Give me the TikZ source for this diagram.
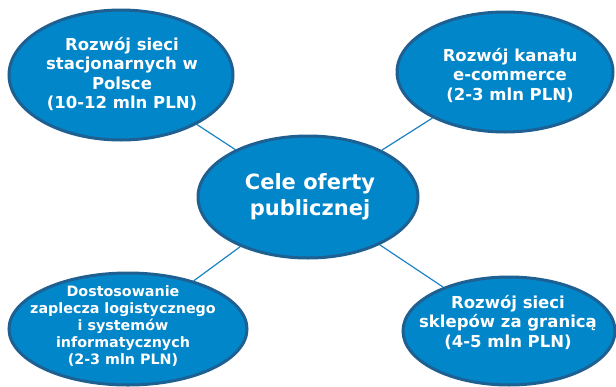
\documentclass[tikz,border=0pt]{standalone}
\usepackage{fontspec}
\setmainfont{DejaVu Sans}
\usetikzlibrary{shapes.geometric,backgrounds}
\definecolor{bubblefill}{RGB}{0,134,201}
\definecolor{bubbleedge}{RGB}{30,96,145}
\definecolor{linkcol}{RGB}{24,130,196}
\tikzset{
  bubble/.style={ellipse, draw=bubbleedge, fill=bubblefill, line width=3pt, inner sep=0pt},
  btext/.style={text=white, align=center, font=\bfseries\fontsize{16.5}{19.5}\selectfont, inner sep=0pt},
  link/.style={draw=linkcol, line width=1.2pt}
}
\begin{document}
\begin{tikzpicture}[x=1pt,y=-1pt]
\useasboundingbox (0,0) rectangle (616,386);
\node[bubble, minimum width=224, minimum height=130] (tl) at (121,75) {};
\node[bubble, minimum width=216, minimum height=120] (tr) at (505,72) {};
\node[bubble, minimum width=220, minimum height=122] (c) at (308,197) {};
\node[bubble, minimum width=238, minimum height=112] (bl) at (128,329) {};
\node[bubble, minimum width=212, minimum height=108] (br) at (509,331) {};
\node[btext] (tlt) at (122,74) {Rozwój sieci\\stacjonarnych w\\Polsce\\(10-12 mln PLN)};
\node[btext] (trt) at (510,75) {Rozwój kanału\\e-commerce\\(2-3 mln PLN)};
\node[btext, font=\bfseries\fontsize{21}{26}\selectfont] (ct) at (310,197) {Cele oferty\\publicznej};
\node[btext, font=\bfseries\fontsize{14.3}{17}\selectfont] (blt) at (123,326) {Dostosowanie\\zaplecza logistycznego\\i systemów\\informatycznych\\(2-3 mln PLN)};
\node[btext] (brt) at (508,322) {Rozwój sieci\\sklepów za granicą\\(4-5 mln PLN)};
\begin{scope}[on background layer]
\draw[link] (c) -- (tl);
\draw[link] (c) -- (tr);
\draw[link] (c) -- (bl);
\draw[link] (c) -- (br);
\end{scope}
\end{tikzpicture}
\end{document}
